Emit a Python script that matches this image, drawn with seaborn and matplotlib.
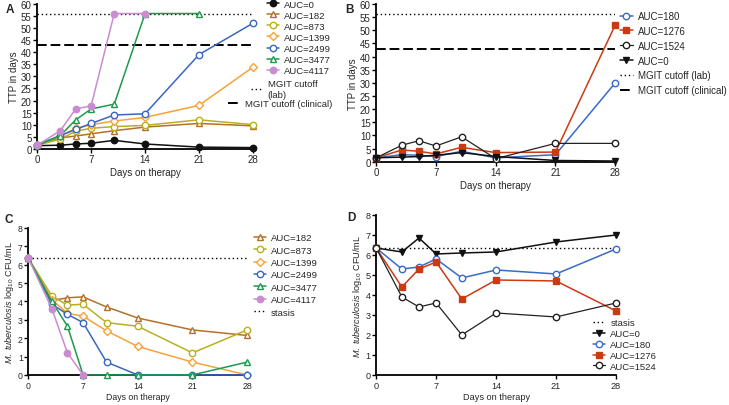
import pandas as pd
import matplotlib.pyplot as plt
import seaborn as sns

sns.set_theme(style="ticks")
plt.rcParams["font.family"] = ["Liberation Sans", "DejaVu Sans"]
plt.rcParams["mathtext.fontset"] = "custom"
plt.rcParams["mathtext.rm"] = "Liberation Sans"
plt.rcParams["mathtext.it"] = "Liberation Sans:italic"

days = [0, 3, 5, 7, 10, 14, 21, 28]

# Panel A - TTP (days)
ttp_a = {
    "AUC=0":    [1.3, 1.5, 2.0, 2.3, 3.5, 2.0, 0.7, 0.5],
    "AUC=182":  [1.5, 4.5, 5.3, 6.2, 7.5, 9.0, 10.5, 9.5],
    "AUC=873":  [1.5, 4.0, 7.3, 8.5, 9.2, 9.7, 12.0, 10.0],
    "AUC=1399": [1.5, 5.3, 8.5, 10.0, 11.5, 13.0, 18.0, 33.8],
    "AUC=2499": [1.5, 5.5, 8.0, 10.5, 14.0, 14.5, 39.0, 52.0],
    "AUC=3477": [1.5, 5.5, 12.0, 16.5, 18.5, 56.0, 56.0, None],
    "AUC=4117": [1.5, 7.5, 16.5, 17.8, 56.0, 56.0, None, None],
}
# Panel B - TTP (days)
ttp_b = {
    "AUC=180":  [1.5, 2.7, 2.5, 2.0, 4.0, 1.5, 2.7, 30.0],
    "AUC=1276": [1.5, 4.5, 4.0, 3.0, 5.5, 3.5, 3.7, 52.0],
    "AUC=1524": [1.5, 6.3, 8.0, 6.0, 9.5, 1.2, 7.0, 7.0],
    "AUC=0":    [1.5, 1.8, 2.0, 2.5, 3.5, 2.0, 0.5, 0.3],
}
# Panel C - log10 CFU/mL
cfu_c = {
    "AUC=182":  [6.35, 4.05, 4.2, 4.25, 3.7, 3.1, 2.45, 2.15],
    "AUC=873":  [6.35, 4.3, 3.8, 3.85, 2.85, 2.65, 1.2, 2.45],
    "AUC=1399": [6.35, 4.1, 3.35, 3.2, 2.4, 1.55, 0.7, 0.0],
    "AUC=2499": [6.35, 3.85, 3.3, 2.85, 0.7, 0.0, 0.0, 0.0],
    "AUC=3477": [6.35, 4.0, 2.65, 0.0, 0.0, 0.0, 0.0, 0.7],
    "AUC=4117": [6.35, 3.6, 1.2, 0.0, None, None, None, None],
}
# Panel D - log10 CFU/mL
cfu_d = {
    "AUC=0":    [6.35, 6.15, 6.85, 6.05, 6.1, 6.15, 6.65, 7.0],
    "AUC=180":  [6.35, 5.3, 5.4, 5.8, 4.85, 5.25, 5.05, 6.3],
    "AUC=1276": [6.35, 4.4, 5.3, 5.65, 3.8, 4.75, 4.7, 3.2],
    "AUC=1524": [6.35, 3.9, 3.4, 3.6, 2.0, 3.1, 2.9, 3.6],
}

lab_cutoff = 56
clinical_cutoff = 43
stasis = 6.35

# colour, marker, filled
style_left = {
    "AUC=0":    ("#111111", "o", True),
    "AUC=182":  ("#B5702A", "^", False),
    "AUC=873":  ("#B8B020", "o", False),
    "AUC=1399": ("#F7A23A", "D", False),
    "AUC=2499": ("#3A68C0", "o", False),
    "AUC=3477": ("#1E9A4E", "^", False),
    "AUC=4117": ("#C98CD0", "o", True),
}
style_right = {
    "AUC=180":  ("#3A6BC8", "o", False),
    "AUC=1276": ("#CC3A14", "s", True),
    "AUC=1524": ("#222222", "o", False),
    "AUC=0":    ("#111111", "v", True),
}

FS = 7


def to_long(d):
    rows = []
    for k, vals in d.items():
        for x, v in zip(days, vals):
            if v is not None:
                rows.append({"day": x, "value": v, "group": k})
    return pd.DataFrame(rows)


def draw(ax, d, styles):
    df = to_long(d)
    for name in d:
        col, mk, filled = styles[name]
        ms, lw = 4.6, 1.1
        if mk in ("v", "D"):
            ms = 3.8
        if name == "AUC=1524":
            lw = 0.9
        sns.lineplot(data=df[df["group"] == name], x="day", y="value", ax=ax,
                     color=col, marker=mk, markersize=ms, linewidth=lw,
                     markeredgewidth=1.0, markeredgecolor=col,
                     markerfacecolor=col if filled else "white",
                     label=name, clip_on=False, zorder=3)


def style_axes(ax, ymax, ystep, fs):
    ax.set_xlim(0, 28)
    ax.set_ylim(0, ymax)
    ax.set_xticks([0, 7, 14, 21, 28])
    ax.set_yticks(range(0, ymax + 1, ystep))
    sns.despine(ax=ax)
    for s in ["left", "bottom"]:
        ax.spines[s].set_linewidth(1.3)
        ax.spines[s].set_color("black")
    ax.tick_params(labelsize=fs, width=1.0, length=3, pad=1, color="black")
    ax.set_xlabel("Days on therapy", fontsize=fs, labelpad=2)


fig = plt.figure(figsize=(7.29, 4.06), dpi=100)
axA = fig.add_axes([0.051, 0.631, 0.296, 0.357])
axB = fig.add_axes([0.516, 0.599, 0.328, 0.389])
axC = fig.add_axes([0.039, 0.074, 0.300, 0.362])
axD = fig.add_axes([0.516, 0.074, 0.329, 0.394])

leg_kw = dict(frameon=False, handlelength=1.3, handletextpad=0.5,
              borderaxespad=0, borderpad=0)

# A
draw(axA, ttp_a, style_left)
lab_a = axA.axhline(lab_cutoff, color="black", ls=(0, (1, 2)), lw=1.0)
clin_a = axA.axhline(clinical_cutoff, color="black", ls=(0, (5, 2)), lw=1.4)
style_axes(axA, 60, 5, FS)
axA.set_ylabel("TTP in days", fontsize=FS, labelpad=1)
h, l = axA.get_legend_handles_labels()
leg1 = axA.legend(h, l, loc="upper left", bbox_to_anchor=(1.065, 1.03),
                  fontsize=6.8, labelspacing=0.22, **leg_kw)
axA.add_artist(leg1)
leg2 = axA.legend([lab_a], ["MGIT cutoff\n(lab)"], loc="upper left",
                  bbox_to_anchor=(0.99, 0.48), fontsize=6.8, **leg_kw)
axA.add_artist(leg2)
axA.legend([clin_a], ["MGIT cutoff (clinical)"], loc="upper left",
           bbox_to_anchor=(0.885, 0.345), fontsize=6.8, **leg_kw)

# B
draw(axB, ttp_b, style_right)
axB.axhline(lab_cutoff, color="black", ls=(0, (1, 2)), lw=1.0, label="MGIT cutoff (lab)")
axB.axhline(clinical_cutoff, color="black", ls=(0, (5, 2)), lw=1.4, label="MGIT cutoff (clinical)")
style_axes(axB, 60, 5, FS)
axB.set_ylabel("TTP in days", fontsize=FS, labelpad=1)
axB.legend(loc="upper left", bbox_to_anchor=(1.02, 0.955), fontsize=7.0,
           labelspacing=0.5, **leg_kw)

# C
draw(axC, cfu_c, style_left)
axC.axhline(stasis, color="black", ls=(0, (1, 2)), lw=1.0, label="stasis")
style_axes(axC, 8, 1, 6.3)
axC.set_ylabel(r"$\mathit{M.\ tuberculosis}$ log$_{10}$ CFU/mL", fontsize=6.6, labelpad=1)
axC.legend(loc="upper left", bbox_to_anchor=(1.03, 0.965), fontsize=6.8,
           labelspacing=0.36, **leg_kw)

# D
draw(axD, cfu_d, style_right)
axD.axhline(stasis, color="black", ls=(0, (1, 2)), lw=1.0, label="stasis")
style_axes(axD, 8, 1, 6.6)
axD.set_ylabel(r"$\mathit{M.\ tuberculosis}$ log$_{10}$ CFU/mL", fontsize=6.6, labelpad=1)
h, l = axD.get_legend_handles_labels()
order = ["stasis", "AUC=0", "AUC=180", "AUC=1276", "AUC=1524"]
hd = dict(zip(l, h))
axD.legend([hd[k] for k in order], order, loc="upper left",
           bbox_to_anchor=(0.905, 0.355), fontsize=6.8, labelspacing=0.2, **leg_kw)

for letter, x, y in [("A", 0.008, 0.975), ("B", 0.474, 0.975),
                     ("C", 0.006, 0.458), ("D", 0.476, 0.462)]:
    fig.text(x, y, letter, fontsize=8.5, fontweight="bold", ha="left", va="center")

fig.savefig("out.png", dpi=100)
